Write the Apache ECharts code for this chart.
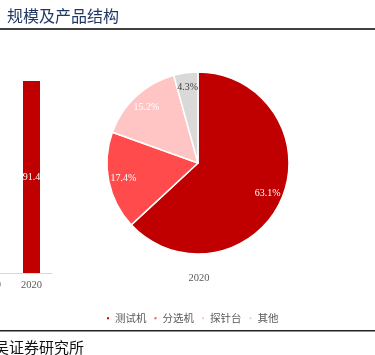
<!DOCTYPE html>
<html>
<head>
<meta charset="utf-8">
<script src="https://cdn.jsdelivr.net/npm/echarts@6/dist/echarts.min.js"></script>
<style>
  html, body { margin: 0; padding: 0; background: #fff; }
  #chart { width: 375px; height: 355px; }
</style>
</head>
<body>
<div id="chart"></div>
<script>
// left bar chart: market size
const years = ['2019', '2020'];
const sizeValues = [83.6, 91.4];

// right pie: product structure (2020)
const productNames = ['测试机', '分选机', '探针台', '其他'];
const productShares = [63.1, 17.4, 15.2, 4.3];
const productColors = ['#c00000', '#ff4b4b', '#ffc5c5', '#d9d9d9'];
const pieYear = '2020';

const serif = '"Liberation Serif", "Times New Roman", serif';
const cjk = '"Noto Sans CJK SC", sans-serif';

const chart = echarts.init(document.getElementById('chart'));

chart.setOption({
    animation: false,
    title: [
        {
            text: '规模及产品结构',
            left: 2, top: 3,
            textStyle: { fontFamily: cjk, fontSize: 16, fontWeight: 'normal', color: '#1f3864' }
        },
        {
            text: pieYear,
            left: 194, top: 268, textAlign: 'center',
            textStyle: { fontFamily: serif, fontSize: 10.5, fontWeight: 'normal', color: '#595959' }
        },
        {
            text: '东吴证券研究所',
            left: -26, top: 335,
            textStyle: { fontFamily: cjk, fontSize: 15, fontWeight: 'normal', color: '#111' }
        }
    ],
    graphic: [
        { type: 'rect', shape: { x: 0, y: 28, width: 375, height: 2 }, style: { fill: '#404040' } },
        { type: 'rect', shape: { x: 0, y: 330, width: 375, height: 1.5 }, style: { fill: '#222' } }
    ],
    legend: {
        data: productNames,
        left: 105, top: 313,
        padding: 0,
        icon: 'rect',
        itemWidth: 4, itemHeight: 4, itemGap: 6,
        textStyle: { fontFamily: cjk, fontSize: 10.5, color: '#595959' }
    },
    grid: { left: -30, width: 82, top: 63, bottom: 82, outerBoundsMode: 'none', containLabel: false },
    xAxis: {
        type: 'category',
        data: years,
        axisLine: { lineStyle: { color: '#d9d9d9' } },
        axisTick: { show: false },
        axisLabel: { fontFamily: serif, fontSize: 10.5, color: '#595959', margin: 7 }
    },
    yAxis: {
        type: 'value', min: 0, max: 100,
        show: false
    },
    series: [
        {
            type: 'bar',
            data: sizeValues,
            barWidth: 17,
            itemStyle: { color: '#c00000' },
            label: {
                show: true, position: 'inside',
                fontFamily: serif, fontSize: 10, color: '#fff'
            }
        },
        {
            type: 'pie',
            center: [198, 163],
            radius: [0, 91],
            startAngle: 90,
            clockwise: true,
            data: productNames.map((name, i) => ({
                name: name,
                value: productShares[i],
                itemStyle: { color: productColors[i] }
            })),
            itemStyle: { borderColor: '#fff', borderWidth: 1.5 },
            label: { show: false },
            labelLine: { show: false }
        },
        {
            // label ring only, so the labels sit further out than the default inside position
            type: 'pie',
            center: [198, 163],
            radius: [55, 91],
            startAngle: 90,
            clockwise: true,
            silent: true,
            data: productNames.map((name, i) => ({
                name: name,
                value: productShares[i],
                label: i === 3 ? { color: '#404040' } : {}
            })),
            itemStyle: { color: 'rgba(0,0,0,0)' },
            label: {
                show: true,
                position: 'inside',
                fontFamily: serif,
                fontSize: 10,
                formatter: p => p.value.toFixed(1) + '%',
                color: '#fff'
            },
            labelLine: { show: false },
            emphasis: { disabled: true }
        }
    ]
});
</script>
</body>
</html>
